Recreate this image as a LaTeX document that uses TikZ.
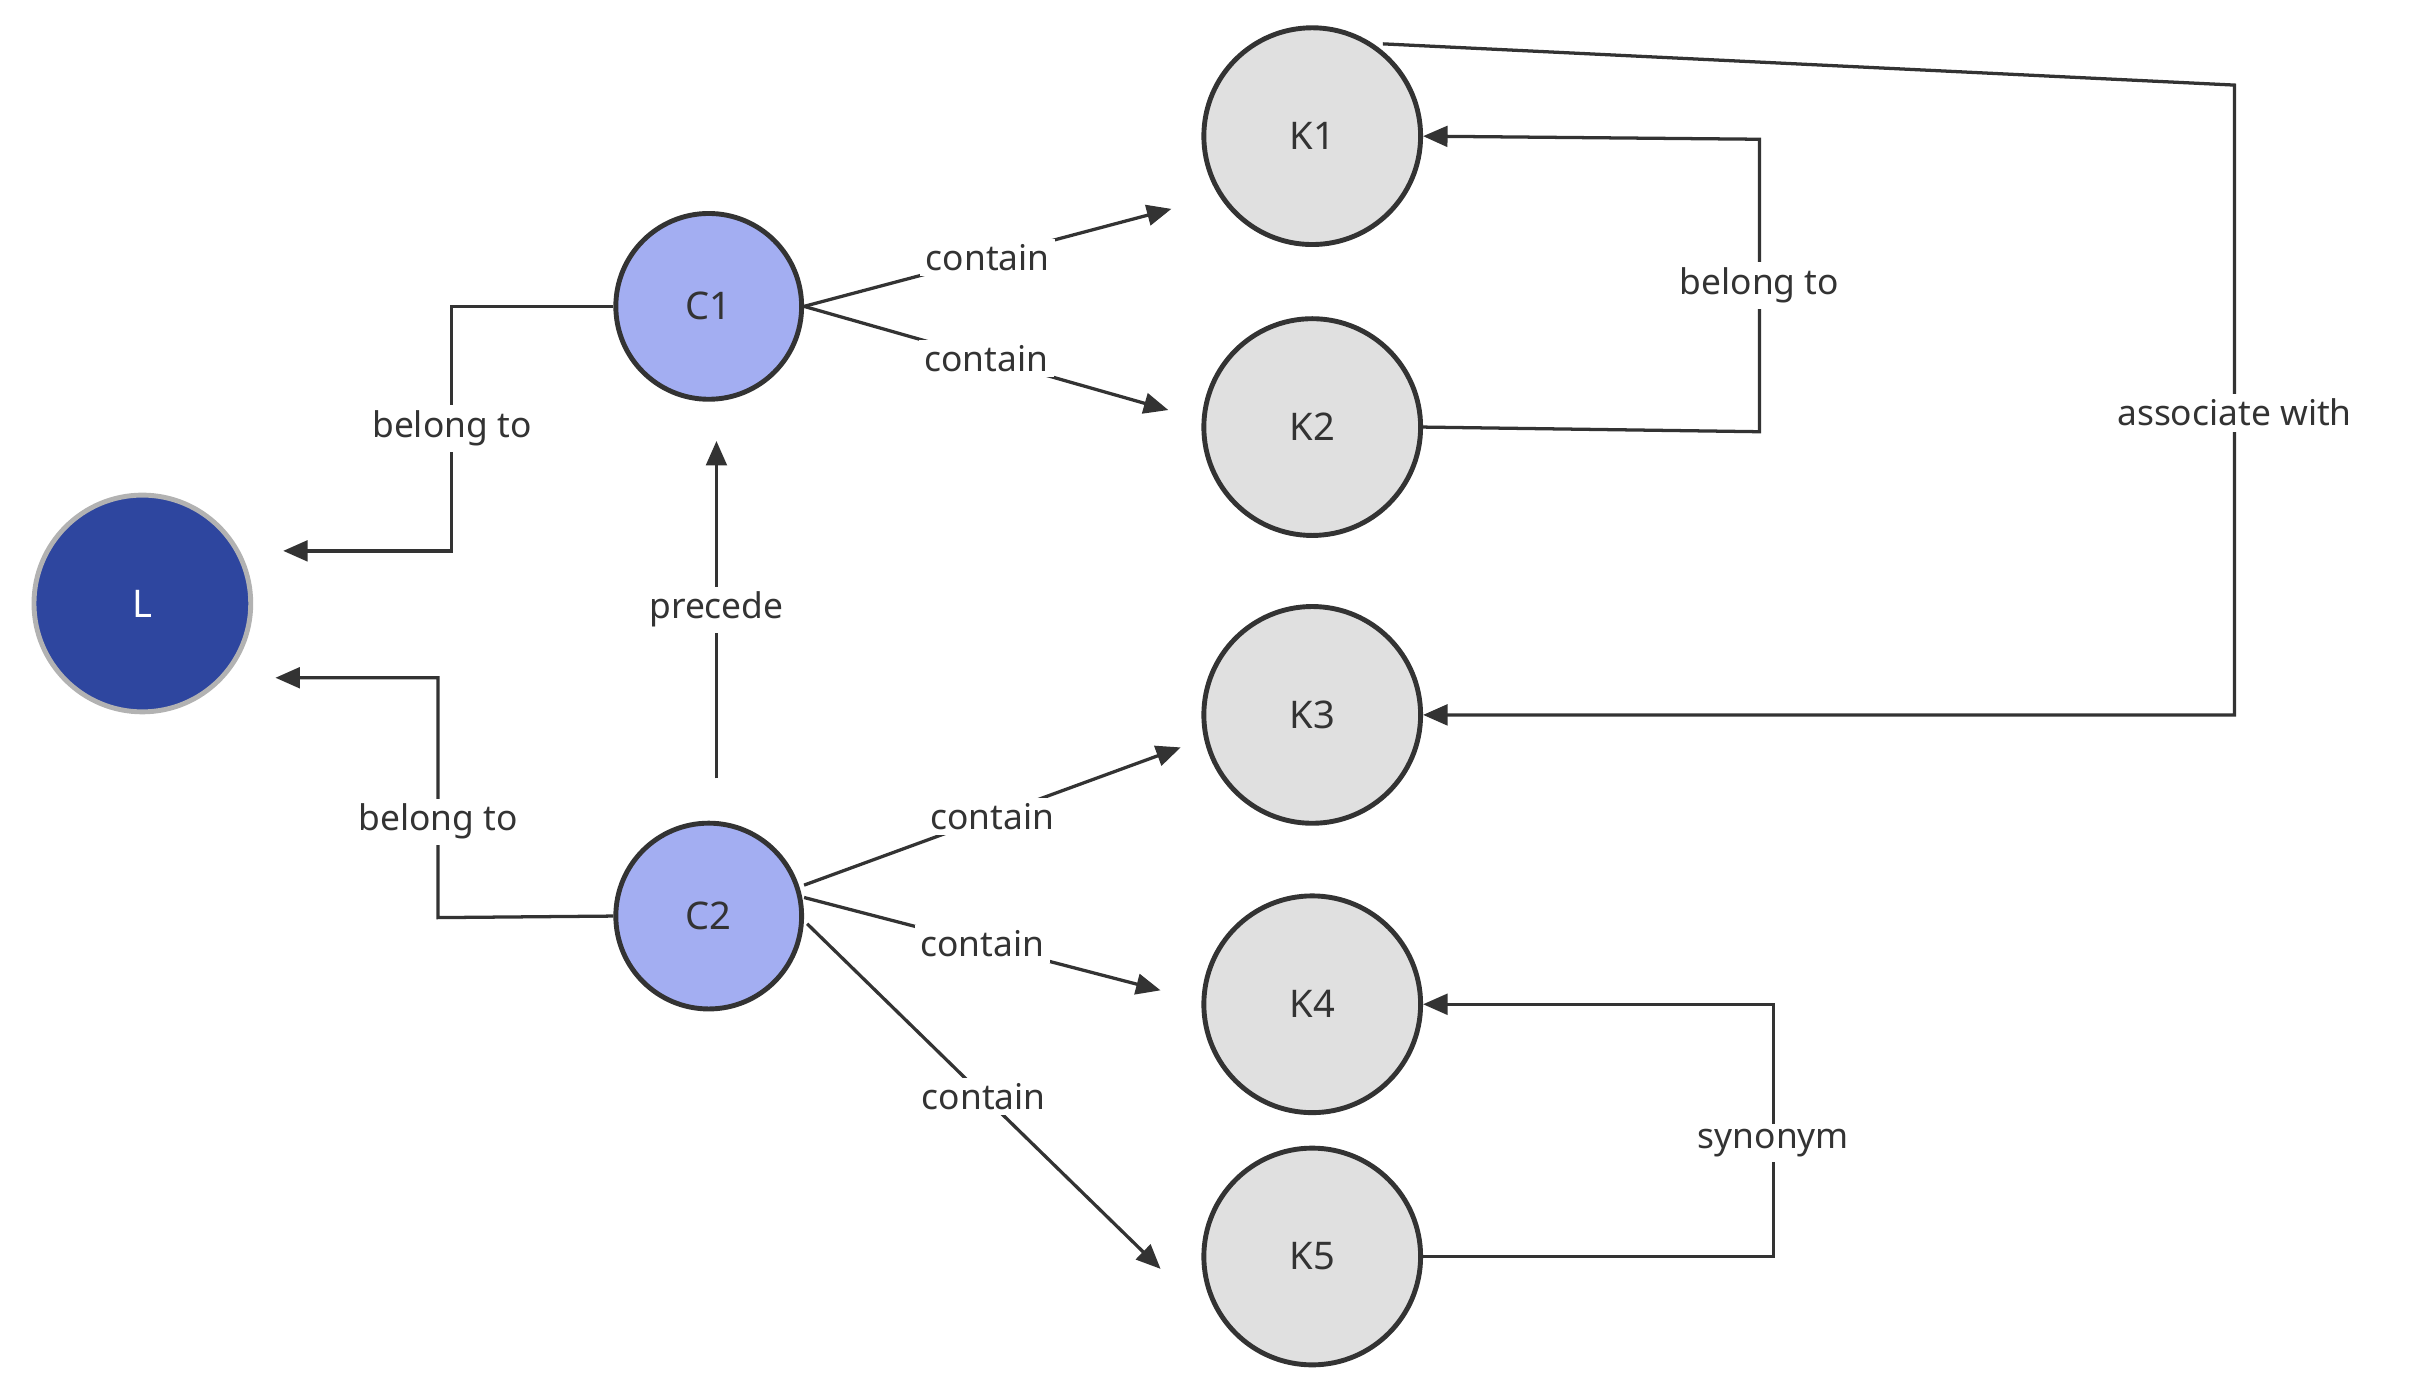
\documentclass[tikz,border=0pt]{standalone}
\usepackage{fontspec}
\setmainfont{Noto Sans}
\usetikzlibrary{arrows.meta,calc}
\definecolor{Ldark}{HTML}{2E469F}
\definecolor{Cblue}{HTML}{A3AEF2}
\definecolor{Kgray}{HTML}{E0E0E0}
\definecolor{ink}{HTML}{333333}
\begin{document}
\begin{tikzpicture}[x=0.01cm,y=-0.01cm,
  circ/.style={circle,draw=ink,line width=0.9pt,inner sep=0pt,minimum size=#1,font=\fontsize{7}{8}\selectfont\bfseries,text=ink},
  lbl/.style={fill=white,inner sep=1pt,font=\fontsize{6.5}{8}\selectfont\bfseries,text=ink},
  con/.style={draw=ink,line width=0.6pt},
  arr/.style={con,-{Triangle[length=4.5pt,width=3.8pt]}}]
\useasboundingbox (0,0) rectangle (1560,903.4);
\node[circ=1.4cm,fill=Ldark,draw=gray!60,text=white] (L) at (92,390) {L};
\node[circ=1.2cm,fill=Cblue] (C1) at (458,198) {C1};
\node[circ=1.2cm,fill=Cblue] (C2) at (458,592) {C2};
\foreach \n/\y in {1/88,2/276,3/462,4/649,5/812}
  \node[circ=1.4cm,fill=Kgray] (K\n) at (848,\y) {K\n};
\coordinate (aL1) at (183,356);
\coordinate (aL2) at (178,438);
\coordinate (aC1) at (463,285);
\coordinate (a1) at (757,135);
\coordinate (a2) at (755,265);
\coordinate (a3) at (763,483);
\coordinate (a4) at (750,640);
\coordinate (a5) at (750,820);
% belong to L
\draw[arr] (C1.west) -- (292,198) -- node[lbl,pos=0.5]{belong to} (292,356) -- (aL1);
\draw[arr] (C2.west) -- (283,593) -- node[lbl,pos=0.4]{belong to} (283,438) -- (aL2);
\draw[arr] (463,503) -- node[lbl]{precede} (aC1);
% contain
\draw[arr] (C1.east) -- node[lbl,pos=0.5]{contain} (a1);
\draw[arr] (C1.east) -- node[lbl,pos=0.5]{contain} (a2);
\draw[arr] ($(C2.east)+(0,-20)$) -- node[lbl,pos=0.5]{contain} (a3);
\draw[arr] ($(C2.east)+(0,-12)$) -- node[lbl,pos=0.5]{contain} (a4);
\draw[arr] ($(C2.east)+(2,5)$) -- node[lbl,pos=0.5]{contain} (a5);
% right side
\draw[arr] (K2.east) -- (1137,279) -- node[lbl]{belong to} (1137,90) -- (K1.east);
\draw[arr] (K1.north east) ++(-5,-9) -- (1444,55) -- node[lbl,pos=0.52]{associate with} (1444,462) -- (K3.east);
\draw[arr] (K5.east) -- (1146,812) -- node[lbl,pos=0.45]{synonym} (1146,649) -- (K4.east);
\end{tikzpicture}
\end{document}
